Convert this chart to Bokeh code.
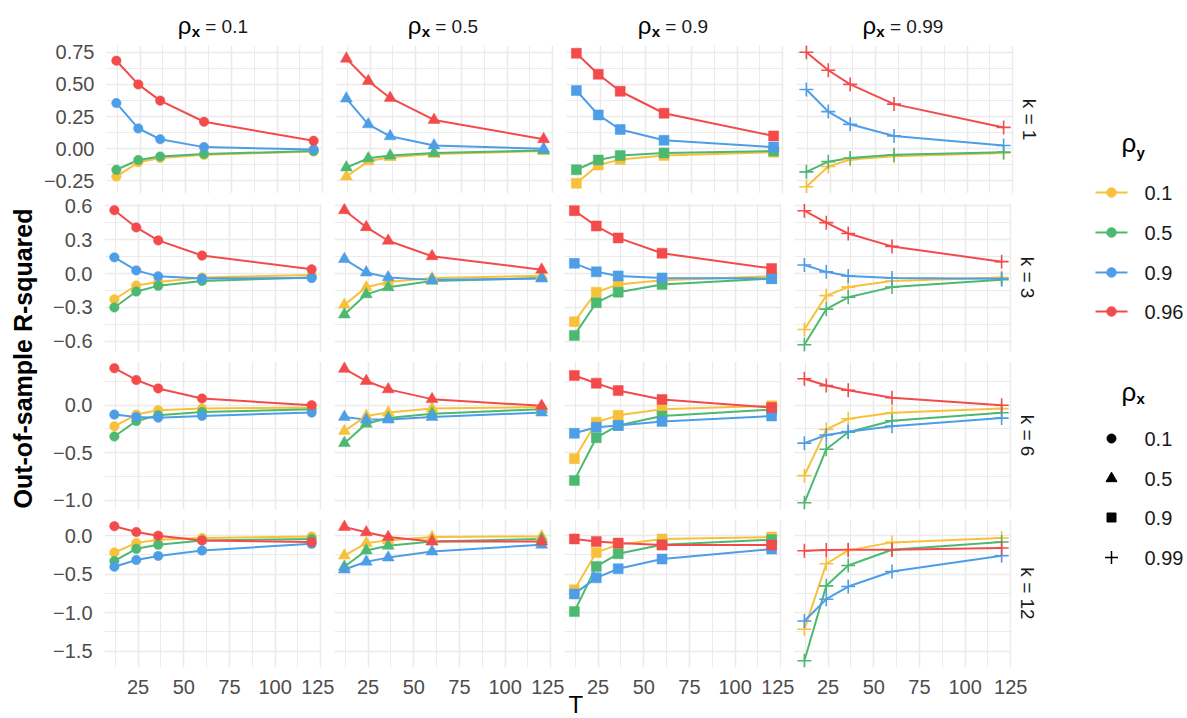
import math
from bokeh.plotting import figure
from bokeh.layouts import row, column
from bokeh.models import Range1d, FixedTicker, Title
from bokeh.core.properties import value
from bokeh.embed import file_html
from bokeh.resources import INLINE

# ---------------- data ----------------
T = [12, 24, 36, 60, 120]
RHO_Y = ["0.1", "0.5", "0.9", "0.96"]
RHO_X = ["0.1", "0.5", "0.9", "0.99"]
K = ["1", "3", "6", "12"]

# each panel: series for rho_y = 0.1, 0.5, 0.9, 0.96
k1_rx01 = [[-0.216, -0.105, -0.071, -0.047, -0.021],
           [-0.163, -0.087, -0.060, -0.040, -0.018],
           [0.355, 0.158, 0.074, 0.013, -0.005],
           [0.684, 0.500, 0.374, 0.210, 0.062]]
k1_rx05 = [[-0.216, -0.097, -0.066, -0.040, -0.018],
           [-0.145, -0.074, -0.053, -0.032, -0.013],
           [0.390, 0.190, 0.097, 0.026, 0.000],
           [0.700, 0.526, 0.395, 0.224, 0.074]]
k1_rx09 = [[-0.268, -0.126, -0.084, -0.053, -0.026],
           [-0.163, -0.087, -0.053, -0.032, -0.018],
           [0.453, 0.263, 0.150, 0.066, 0.013],
           [0.742, 0.579, 0.447, 0.276, 0.100]]
k1_rx099 = [[-0.295, -0.137, -0.084, -0.058, -0.032],
            [-0.179, -0.100, -0.071, -0.047, -0.026],
            [0.460, 0.289, 0.190, 0.100, 0.026],
            [0.750, 0.610, 0.500, 0.347, 0.166]]

k3_rx01 = [[-0.228, -0.106, -0.075, -0.034, -0.012],
           [-0.300, -0.159, -0.109, -0.065, -0.034],
           [0.143, 0.028, -0.025, -0.044, -0.040],
           [0.560, 0.408, 0.293, 0.159, 0.037]]
k3_rx05 = [[-0.277, -0.122, -0.075, -0.040, -0.019],
           [-0.362, -0.184, -0.122, -0.065, -0.040],
           [0.128, 0.009, -0.034, -0.056, -0.044],
           [0.560, 0.410, 0.290, 0.153, 0.034]]
k3_rx09 = [[-0.426, -0.165, -0.096, -0.060, -0.024],
           [-0.547, -0.258, -0.165, -0.096, -0.045],
           [0.090, 0.015, -0.021, -0.039, -0.045],
           [0.556, 0.420, 0.315, 0.180, 0.045]]
k3_rx099 = [[-0.495, -0.195, -0.120, -0.066, -0.036],
            [-0.630, -0.315, -0.210, -0.120, -0.054],
            [0.075, 0.015, -0.021, -0.039, -0.045],
            [0.556, 0.450, 0.354, 0.240, 0.105]]

k6_rx01 = [[-0.223, -0.099, -0.053, -0.035, -0.025],
           [-0.330, -0.167, -0.106, -0.071, -0.043],
           [-0.099, -0.124, -0.131, -0.113, -0.078],
           [0.390, 0.266, 0.177, 0.071, 0.000]]
k6_rx05 = [[-0.273, -0.113, -0.078, -0.035, -0.018],
           [-0.400, -0.195, -0.135, -0.089, -0.043],
           [-0.124, -0.152, -0.152, -0.124, -0.078],
           [0.383, 0.255, 0.167, 0.064, -0.007]]
k6_rx09 = [[-0.564, -0.179, -0.107, -0.043, -0.007],
           [-0.793, -0.343, -0.214, -0.114, -0.046],
           [-0.296, -0.232, -0.214, -0.171, -0.114],
           [0.314, 0.232, 0.154, 0.061, -0.025]]
k6_rx099 = [[-0.743, -0.257, -0.143, -0.079, -0.036],
            [-1.029, -0.464, -0.286, -0.164, -0.079],
            [-0.400, -0.314, -0.279, -0.221, -0.136],
            [0.279, 0.207, 0.157, 0.079, 0.000]]

k12_rx01 = [[-0.219, -0.096, -0.053, -0.031, -0.009],
            [-0.329, -0.171, -0.118, -0.061, -0.044],
            [-0.404, -0.316, -0.263, -0.193, -0.105],
            [0.123, 0.048, 0.000, -0.061, -0.083]]
k12_rx05 = [[-0.259, -0.096, -0.061, -0.018, -0.009],
            [-0.404, -0.193, -0.132, -0.075, -0.044],
            [-0.439, -0.338, -0.285, -0.206, -0.118],
            [0.114, 0.044, -0.018, -0.075, -0.075]]
k12_rx09 = [[-0.704, -0.217, -0.117, -0.043, -0.017],
            [-0.987, -0.400, -0.235, -0.117, -0.052],
            [-0.757, -0.548, -0.430, -0.304, -0.174],
            [-0.043, -0.074, -0.096, -0.122, -0.122]]
k12_rx099 = [[-1.217, -0.365, -0.191, -0.087, -0.030],
             [-1.626, -0.652, -0.387, -0.183, -0.083],
             [-1.109, -0.826, -0.661, -0.465, -0.261],
             [-0.196, -0.187, -0.183, -0.183, -0.161]]

PANELS = [[k1_rx01, k1_rx05, k1_rx09, k1_rx099],
          [k3_rx01, k3_rx05, k3_rx09, k3_rx099],
          [k6_rx01, k6_rx05, k6_rx09, k6_rx099],
          [k12_rx01, k12_rx05, k12_rx09, k12_rx099]]

X_TICKS = [25, 50, 75, 100, 125]
X_LABELS = ["25", "50", "75", "100", "125"]
X_MINOR = [12.5, 37.5, 62.5, 87.5, 112.5]

Y_TICKS = [[-0.25, 0.0, 0.25, 0.5, 0.75],
           [-0.6, -0.3, 0.0, 0.3, 0.6],
           [-1.0, -0.5, 0.0],
           [-1.5, -1.0, -0.5, 0.0]]
Y_LABELS = [["\u22120.25", "0.00", "0.25", "0.50", "0.75"],
            ["\u22120.6", "\u22120.3", "0.0", "0.3", "0.6"],
            ["\u22121.0", "\u22120.5", "0.0"],
            ["\u22121.5", "\u22121.0", "\u22120.5", "0.0"]]
Y_MINOR = [[-0.125, 0.125, 0.375, 0.625],
           [-0.45, -0.15, 0.15, 0.45],
           [-0.75, -0.25, 0.25],
           [-1.25, -0.75, -0.25]]

COLORS = ["#F8C13B", "#4DB871", "#4E9EE7", "#F34B4B"]
MARKERS = ["circle", "triangle", "square", "cross"]
MSIZE = [9.5, 12, 10, 14]

# ---------------- layout constants (pixels) ----------------
FONT = "Liberation Sans"
SMALL = "20px"
FW, FH = 217, 148
GAP_X = 13
LEFT_B, RIGHT_B = 64, 40
HEADER_H = 40
# per facet row: (top border, bottom border); consecutive rows sum to a 10px gap
ROW_B = [(5, 0), (10, 2), (8, 2), (8, 50)]
TOTAL_H = HEADER_H + sum(t + b for t, b in ROW_B) + 4 * FH
YT_W = 40
MAIN_W = LEFT_B + 4 * FW + 3 * GAP_X + RIGHT_B
LEG_W = 135
GRID = "#EBEBEB"

x_pad = 0.05 * (max(T) - min(T))
x_lo, x_hi = min(T) - x_pad, max(T) + x_pad


def blank(width, height, xr, yr):
    p = figure(width=width, height=height, x_range=Range1d(*xr), y_range=Range1d(*yr),
               x_axis_location=None, y_axis_location=None, toolbar_location=None,
               output_backend="svg", min_border=0, outline_line_color=None,
               background_fill_color="white", border_fill_color="white")
    p.xgrid.visible = False
    p.ygrid.visible = False
    return p


def style_axis(ax, standoff):
    ax.axis_line_color = None
    ax.major_tick_line_color = None
    ax.minor_tick_line_color = None
    ax.major_tick_out = 0
    ax.major_tick_in = 0
    ax.minor_tick_out = 0
    ax.minor_tick_in = 0
    ax.major_label_text_font = FONT
    ax.major_label_text_font_size = SMALL
    ax.major_label_text_color = "#4D4D4D"
    ax.major_label_standoff = standoff


rows = []
for r in range(4):
    vals = [v for panel in PANELS[r] for s in panel for v in s]
    lo, hi = min(vals), max(vals)
    pad = 0.05 * (hi - lo)
    figs = []
    for c in range(4):
        p = figure(frame_width=FW, frame_height=FH,
                   x_range=Range1d(x_lo, x_hi), y_range=Range1d(lo - pad, hi + pad),
                   x_axis_location="below" if r == 3 else None,
                   y_axis_location="left" if c == 0 else None,
                   toolbar_location=None, output_backend="svg",
                   min_border_left=LEFT_B if c == 0 else 0,
                   min_border_right=RIGHT_B if c == 3 else GAP_X,
                   min_border_top=ROW_B[r][0],
                   min_border_bottom=ROW_B[r][1],
                   outline_line_color=None,
                   background_fill_color="white", border_fill_color="white")
        p.xgrid.ticker = FixedTicker(ticks=X_TICKS, minor_ticks=X_MINOR)
        p.ygrid.ticker = FixedTicker(ticks=Y_TICKS[r], minor_ticks=Y_MINOR[r])
        for g in (p.xgrid, p.ygrid):
            g.grid_line_color = GRID
            g.grid_line_width = 1.6
            g.minor_grid_line_color = GRID
            g.minor_grid_line_width = 1.0
        if r == 3:
            p.xaxis.ticker = FixedTicker(ticks=X_TICKS)
            p.xaxis.major_label_overrides = dict(zip(X_TICKS, X_LABELS))
            style_axis(p.xaxis[0], 12)
        if c == 0:
            p.yaxis.ticker = FixedTicker(ticks=Y_TICKS[r])
            p.yaxis.major_label_overrides = dict(zip(Y_TICKS[r], Y_LABELS[r]))
            style_axis(p.yaxis[0], 12)
        if c == 3:
            p.add_layout(Title(text="k = " + K[r], align="center", standoff=10,
                               text_font=FONT, text_font_size="19px",
                               text_font_style="normal", text_color="#1A1A1A"), "right")
        if r == 3 and c == 2:
            # x-axis title "T", tucked under the tick labels, left part of this panel
            p.add_layout(Title(text="T", align="left", offset=4, vertical_align="bottom",
                               standoff=-16, text_font=FONT, text_font_size="24px",
                               text_font_style="normal", text_color="black"), "below")
        series = PANELS[r][c]
        for i, s in enumerate(series):
            p.line(T, s, line_color=COLORS[i], line_width=2)
        for i, s in enumerate(series):
            if MARKERS[c] == "cross":
                p.scatter(T, s, marker="cross", size=MSIZE[c], line_color=COLORS[i], line_width=1.6)
            else:
                p.scatter(T, s, marker=MARKERS[c], size=MSIZE[c], fill_color=COLORS[i],
                          line_color=COLORS[i], line_width=0.5)
        figs.append(p)
    rows.append(row(*figs, spacing=0))

# ---------------- strip headers ----------------
header = blank(MAIN_W, HEADER_H, (YT_W, YT_W + MAIN_W), (0, HEADER_H))
for c in range(4):
    cx = YT_W + LEFT_B + FW / 2 + c * (FW + GAP_X)
    rest = "= " + RHO_X[c]
    w_rest = 11.1 + 5.3 + 10.6 * len(RHO_X[c].replace(".", "")) + 5.3
    total = 13.8 + 8.3 + 5.3 + w_rest
    x0 = cx - total / 2
    header.text([x0], [HEADER_H - 24.7], text=["\u03c1"], text_font=value(FONT),
                text_font_size=value("24px"), text_align="left", text_baseline="middle",
                text_color="black")
    header.text([x0 + 13.8], [HEADER_H - 31.3], text=["x"], text_font=value(FONT),
                text_font_size=value("15px"), text_font_style="bold", text_align="left",
                text_baseline="middle", text_color="black")
    header.text([x0 + 13.8 + 8.3 + 5.3], [HEADER_H - 25.7], text=[rest], text_font=value(FONT),
                text_font_size=value("19px"), text_align="left", text_baseline="middle",
                text_color="#1A1A1A")

main = column(header, *rows, spacing=0)

# ---------------- y title ----------------
ytitle = blank(YT_W, TOTAL_H, (0, YT_W), (0, TOTAL_H))
ytitle.text([22], [TOTAL_H - 358], text=["Out-of-sample R-squared"], angle=math.pi / 2,
            text_font=value(FONT), text_font_size=value("25px"), text_font_style="bold",
            text_align="center", text_baseline="middle", text_color="black")

# ---------------- legends ----------------
LX0 = YT_W + MAIN_W
leg = blank(LEG_W, TOTAL_H, (LX0, LX0 + LEG_W), (0, TOTAL_H))
KEY_X = 1109
LAB_X = 1142
ITEM_Y1 = [192, 232, 272, 311]
ITEM_Y2 = [438, 478, 517, 557]

leg.text([1119], [TOTAL_H - 142.5], text=["\u03c1"], text_font=value(FONT), text_font_size=value("26px"),
         text_align="left", text_baseline="middle", text_color="black")
leg.text([1134], [TOTAL_H - 151.5], text=["y"], text_font=value(FONT), text_font_size=value("15px"),
         text_font_style="bold", text_align="left", text_baseline="middle", text_color="black")
for i in range(4):
    yy = TOTAL_H - ITEM_Y1[i]
    leg.line([KEY_X - 16, KEY_X + 16], [yy, yy], line_color=COLORS[i], line_width=2)
    leg.scatter([KEY_X], [yy], marker="circle", size=9.5, fill_color=COLORS[i], line_color=COLORS[i])
    leg.text([LAB_X], [yy], text=[RHO_Y[i]], text_font=value(FONT), text_font_size=value(SMALL),
             text_align="left", text_baseline="middle", text_color="#1A1A1A")

leg.text([1119], [TOTAL_H - 391], text=["\u03c1"], text_font=value(FONT), text_font_size=value("26px"),
         text_align="left", text_baseline="middle", text_color="black")
leg.text([1134], [TOTAL_H - 397.5], text=["x"], text_font=value(FONT), text_font_size=value("15px"),
         text_font_style="bold", text_align="left", text_baseline="middle", text_color="black")
LEG_MSIZE = [9, 11, 9, 13]
for i in range(4):
    yy = TOTAL_H - ITEM_Y2[i]
    if MARKERS[i] == "cross":
        leg.scatter([KEY_X], [yy], marker="cross", size=LEG_MSIZE[i], line_color="black", line_width=1.5)
    else:
        leg.scatter([KEY_X], [yy], marker=MARKERS[i], size=LEG_MSIZE[i], fill_color="black",
                    line_color="black")
    leg.text([LAB_X], [yy], text=[RHO_X[i]], text_font=value(FONT), text_font_size=value(SMALL),
             text_align="left", text_baseline="middle", text_color="#1A1A1A")

p = row(ytitle, main, leg, spacing=0)

open("out.html", "w").write(file_html(p, INLINE))
